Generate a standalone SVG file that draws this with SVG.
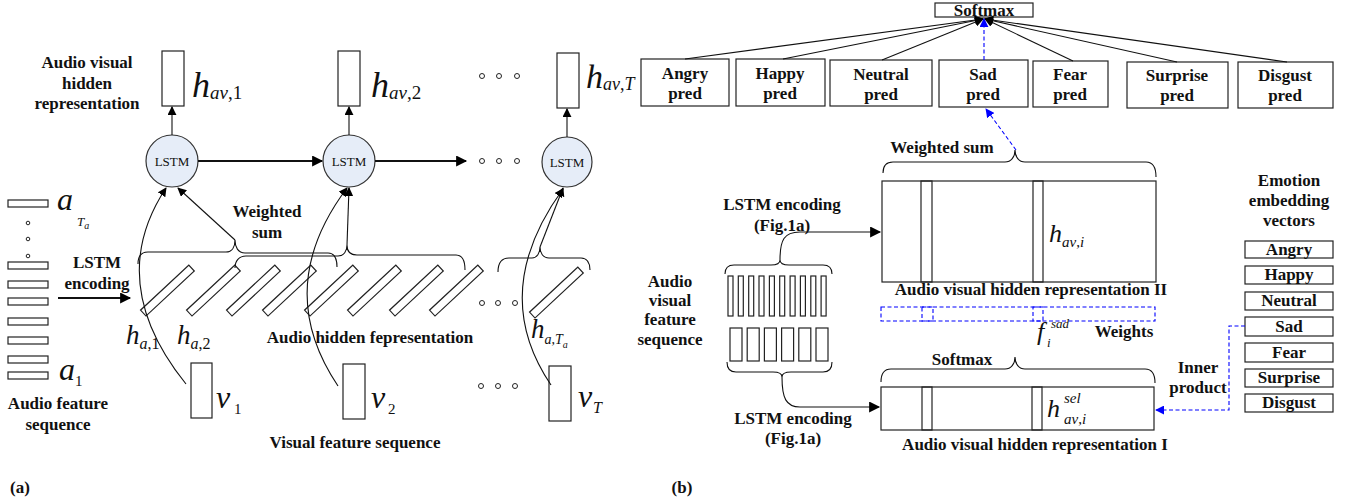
<svg xmlns="http://www.w3.org/2000/svg" width="1356" height="502" viewBox="0 0 1356 502">
<defs>
<marker id="ah" viewBox="0 0 10 10" refX="9" refY="5" markerWidth="9" markerHeight="9" markerUnits="userSpaceOnUse" orient="auto"><path d="M0,0 L10,5 L0,10 z" fill="#000"/></marker>
<marker id="ahb" viewBox="0 0 10 10" refX="9" refY="5" markerWidth="9" markerHeight="9" markerUnits="userSpaceOnUse" orient="auto"><path d="M0,0 L10,5 L0,10 z" fill="#0000ff"/></marker>
<marker id="ahl" viewBox="0 0 10 10" refX="9" refY="5" markerWidth="12" markerHeight="11" markerUnits="userSpaceOnUse" orient="auto"><path d="M0,0 L10,5 L0,10 z" fill="#000"/></marker>
</defs>
<style>
.b{font-family:"Liberation Serif",serif;font-weight:bold;font-size:17px;text-anchor:middle;fill:#111}
.r{font-family:"Liberation Serif",serif;font-size:13px;text-anchor:middle;fill:#111}
.m{font-family:"Liberation Serif",serif;font-style:italic;fill:#111}
.n{font-style:normal}
.box{fill:#fff;stroke:#222;stroke-width:1.2}
.cell{fill:none;stroke:#222;stroke-width:1.2}
.lstm{fill:#e6edf8;stroke:#333;stroke-width:1.2}
.ln{fill:none;stroke:#111;stroke-width:1.1}
.thick{fill:none;stroke:#111;stroke-width:2.2}
.blue{fill:none;stroke:#0000ff;stroke-width:1.1;stroke-dasharray:4 2.5}
.dot{fill:#fff;stroke:#222;stroke-width:1}
</style>
<rect width="1356" height="502" fill="#fff"/>

<!-- ============ (a) ============ -->
<g id="a-title">
<text class="b" x="87" y="68" font-size="16.5">Audio visual</text>
<text class="b" x="87" y="89" font-size="16.5">hidden</text>
<text class="b" x="87" y="109" font-size="16.5">representation</text>
</g>

<g id="hav1"><rect class="box" x="162" y="51" width="22" height="55"/>
<text class="m" x="192" y="97" font-size="36">h<tspan font-size="19" dy="2">av</tspan><tspan class="n" font-size="19">,1</tspan></text></g>
<g id="hav2"><rect class="box" x="338" y="51" width="22" height="55"/>
<text class="m" x="371" y="97" font-size="36">h<tspan font-size="19" dy="2">av</tspan><tspan class="n" font-size="19">,2</tspan></text></g>
<g id="havT"><rect class="box" x="557" y="53" width="22" height="55"/>
<text class="m" x="586" y="88" font-size="34">h<tspan font-size="18" dy="2">av</tspan><tspan class="n" font-size="18">,</tspan><tspan font-size="18">T</tspan></text></g>

<g id="lstm1"><circle class="lstm" cx="172" cy="161" r="26"/><text class="r" x="172" y="166">LSTM</text></g>
<g id="lstm2"><circle class="lstm" cx="349" cy="161" r="26"/><text class="r" x="349" y="166">LSTM</text></g>
<g id="lstm3"><circle class="lstm" cx="567" cy="162" r="25"/><text class="r" x="567" y="167">LSTM</text></g>

<g id="dots-a">
<circle class="dot" cx="482" cy="76" r="2.5"/><circle class="dot" cx="499" cy="76" r="2.5"/><circle class="dot" cx="517" cy="76" r="2.5"/>
<circle class="dot" cx="482" cy="161" r="2.5"/><circle class="dot" cx="499" cy="161" r="2.5"/><circle class="dot" cx="517" cy="161" r="2.5"/>
<circle class="dot" cx="482" cy="303" r="2.5"/><circle class="dot" cx="498" cy="303" r="2.5"/><circle class="dot" cx="515" cy="303" r="2.5"/>
<circle class="dot" cx="481" cy="386" r="2.5"/><circle class="dot" cx="498" cy="386" r="2.5"/><circle class="dot" cx="515" cy="386" r="2.5"/>
<circle class="dot" cx="28" cy="223" r="1.8"/><circle class="dot" cx="28" cy="239" r="1.8"/><circle class="dot" cx="28" cy="256" r="1.8"/>
</g>

<g id="audio-features">
<rect class="box" x="8" y="200" width="40" height="7"/>
<rect class="box" x="8" y="262" width="40" height="7"/>
<rect class="box" x="8" y="281" width="40" height="7"/>
<rect class="box" x="8" y="298" width="40" height="7"/>
<rect class="box" x="8" y="318" width="40" height="7"/>
<rect class="box" x="8" y="337" width="40" height="7"/>
<rect class="box" x="8" y="356" width="40" height="7"/>
<rect class="box" x="8" y="372" width="40" height="7"/>
<text class="m" x="57" y="210" font-size="32">a</text>
<text class="m" x="77" y="226" font-size="13">T<tspan font-size="10" dy="3">a</tspan></text>
<text class="m" x="59" y="380" font-size="32">a</text>
<text class="m n" x="75" y="386" font-size="15">1</text>
<text class="b" x="58" y="409">Audio feature</text>
<text class="b" x="58" y="430">sequence</text>
<text class="b" x="97" y="268">LSTM</text>
<text class="b" x="97" y="289">encoding</text>
</g>

<g id="audio-hidden">
<g class="box">
<rect x="0" y="-8" width="66" height="8" transform="translate(146,316) rotate(-43)"/>
<rect x="0" y="-8" width="66" height="8" transform="translate(192,316) rotate(-43)"/>
<rect x="0" y="-8" width="66" height="8" transform="translate(232,316) rotate(-43)"/>
<rect x="0" y="-8" width="66" height="8" transform="translate(268,316) rotate(-43)"/>
<rect x="0" y="-8" width="66" height="8" transform="translate(310,316) rotate(-43)"/>
<rect x="0" y="-8" width="66" height="8" transform="translate(353,316) rotate(-43)"/>
<rect x="0" y="-8" width="66" height="8" transform="translate(395,316) rotate(-43)"/>
<rect x="0" y="-8" width="66" height="8" transform="translate(435,316) rotate(-43)"/>
<rect x="0" y="-8" width="66" height="8" transform="translate(535,318) rotate(-43)"/>
</g>
<text class="m" x="126" y="344" font-size="27">h<tspan font-size="16" dy="5">a</tspan><tspan class="n" font-size="16">,1</tspan></text>
<text class="m" x="177" y="344" font-size="27">h<tspan font-size="16" dy="5">a</tspan><tspan class="n" font-size="16">,2</tspan></text>
<text class="m" x="531" y="338" font-size="27">h<tspan font-size="14" dy="6">a</tspan><tspan class="n" font-size="14">,</tspan><tspan font-size="14">T</tspan><tspan font-size="10" dy="4">a</tspan></text>
<text class="b" x="370" y="343">Audio hidden fepresentation</text>
<text class="b" x="267" y="217">Weighted</text>
<text class="b" x="267" y="238">sum</text>
</g>

<g id="visual-features">
<rect class="box" x="191" y="363" width="21" height="55"/>
<rect class="box" x="343" y="364" width="22" height="55"/>
<rect class="box" x="549" y="366" width="22" height="55"/>
<text class="m" x="216" y="408" font-size="32">v</text><text class="m n" x="234" y="414" font-size="15">1</text>
<text class="m" x="371" y="408" font-size="32">v</text><text class="m n" x="388" y="414" font-size="15">2</text>
<text class="m" x="578" y="407" font-size="32">v</text><text class="m" x="593" y="413" font-size="16">T</text>
<text class="b" x="355" y="448">Visual feature sequence</text>
</g>

<text class="b" x="20" y="493">(a)</text>

<g id="connectors-a">
<line class="ln" x1="172" y1="135" x2="172" y2="107" marker-end="url(#ah)"/>
<line class="ln" x1="349" y1="135" x2="349" y2="107" marker-end="url(#ah)"/>
<line class="ln" x1="567" y1="137" x2="567" y2="109" marker-end="url(#ah)"/>
<line class="thick" x1="198" y1="161" x2="322" y2="161" marker-end="url(#ahl)"/>
<line class="thick" x1="375" y1="161" x2="466" y2="161" marker-end="url(#ahl)"/>
<line class="thick" x1="58" y1="298" x2="130" y2="298" marker-end="url(#ahl)"/>
<path class="ln" d="M138,264 C138,256 141,252 148,252 L226,252 C232,252 235,247 235,240 C235,247 238,253 245,253 L328,253 C334,253 337,258 337,267"/>
<path class="ln" d="M235,268 C235,261 239,256 246,256 L338,256 C344,256 347,251 347,245 C347,251 350,255 357,255 L456,255 C462,255 465,261 465,270"/>
<path class="ln" d="M498,272 C498,263 502,258 509,258 L532,258 C537,258 540,253 540,247 C540,253 543,258 549,258 L581,258 C587,258 590,263 590,270"/>
<line class="ln" x1="235" y1="240" x2="178" y2="188" marker-end="url(#ah)"/>
<line class="ln" x1="347" y1="245" x2="349" y2="188" marker-end="url(#ah)"/>
<line class="ln" x1="540" y1="247" x2="563" y2="188" marker-end="url(#ah)"/>
<path class="ln" d="M186,384 Q104,282 166,188" marker-end="url(#ah)"/>
<path class="ln" d="M338,386 Q272,288 347,188" marker-end="url(#ah)"/>
<path class="ln" d="M551,385 Q488,292 563,189" marker-end="url(#ah)"/>
</g>

<!-- ============ (b) ============ -->
<g id="softmax-top"><rect class="box" x="935" y="3" width="98" height="14"/>
<text class="b" x="984" y="16">Softmax</text></g>

<g id="pred-angry"><rect class="box" x="641" y="59" width="88" height="47"/><text class="b" x="685" y="79">Angry</text><text class="b" x="685" y="99">pred</text></g>
<g id="pred-happy"><rect class="box" x="736" y="59" width="89" height="47"/><text class="b" x="780" y="79">Happy</text><text class="b" x="780" y="99">pred</text></g>
<g id="pred-neutral"><rect class="box" x="830" y="60" width="102" height="46"/><text class="b" x="881" y="80">Neutral</text><text class="b" x="881" y="100">pred</text></g>
<g id="pred-sad"><rect class="box" x="939" y="60" width="89" height="47"/><text class="b" x="983" y="80">Sad</text><text class="b" x="983" y="100">pred</text></g>
<g id="pred-fear"><rect class="box" x="1033" y="61" width="75" height="46"/><text class="b" x="1070" y="80">Fear</text><text class="b" x="1070" y="100">pred</text></g>
<g id="pred-surprise"><rect class="box" x="1127" y="62" width="101" height="46"/><text class="b" x="1177" y="81">Surprise</text><text class="b" x="1177" y="101">pred</text></g>
<g id="pred-disgust"><rect class="box" x="1238" y="62" width="95" height="46"/><text class="b" x="1285" y="81">Disgust</text><text class="b" x="1285" y="101">pred</text></g>

<g id="hidden-II">
<text class="b" x="942" y="153">Weighted sum</text>
<rect class="box" x="882" y="181" width="274" height="101"/>
<rect class="cell" x="921" y="181" width="11" height="101"/>
<rect class="cell" x="1033" y="181" width="10" height="101"/>
<text class="m" x="1049" y="242" font-size="26">h<tspan font-size="15" dy="5">av</tspan><tspan class="n" font-size="15">,</tspan><tspan font-size="15">i</tspan></text>
<text class="b" x="1031" y="295" font-size="13">Audio visual hidden representation II</text>
</g>

<g id="weights">
<rect class="blue" x="881" y="307" width="274" height="14"/>
<rect class="blue" x="922" y="307" width="11" height="14"/>
<rect class="blue" x="1033" y="307" width="10" height="14"/>
<text class="m" x="1037" y="340" font-size="26">f</text>
<text class="m" x="1051" y="328" font-size="13">sad</text>
<text class="m" x="1047" y="347" font-size="13">i</text>
<text class="b" x="1124" y="337" font-size="14.5">Weights</text>
</g>

<g id="hidden-I">
<text class="b" x="962" y="365">Softmax</text>
<rect class="box" x="881" y="387" width="273" height="43"/>
<rect class="cell" x="922" y="387" width="10" height="43"/>
<rect class="cell" x="1032" y="387" width="10" height="43"/>
<text class="m" x="1047" y="417" font-size="26">h</text>
<text class="m" x="1064" y="403" font-size="15">sel</text>
<text class="m" x="1064" y="424" font-size="15">av<tspan class="n">,</tspan>i</text>
<text class="b" x="1035" y="450" font-size="13">Audio visual hidden representation I</text>
</g>

<g id="av-feature-seq">
<text class="b" x="670" y="287">Audio</text>
<text class="b" x="670" y="306">visual</text>
<text class="b" x="670" y="325">feature</text>
<text class="b" x="670" y="345">sequence</text>
<g class="cell">
<rect x="728" y="276" width="5" height="40"/><rect x="738.3" y="276" width="5" height="40"/><rect x="748.7" y="276" width="5" height="40"/><rect x="759" y="276" width="5" height="40"/><rect x="769.4" y="276" width="5" height="40"/><rect x="779.7" y="276" width="5" height="40"/><rect x="790.1" y="276" width="5" height="40"/><rect x="800.4" y="276" width="5" height="40"/><rect x="810.8" y="276" width="5" height="40"/><rect x="821.1" y="276" width="5" height="40"/>
<rect x="730" y="328" width="12" height="33"/><rect x="747.2" y="328" width="12" height="33"/><rect x="764.4" y="328" width="12" height="33"/><rect x="781.6" y="328" width="12" height="33"/><rect x="798.8" y="328" width="12" height="33"/><rect x="816" y="328" width="12" height="33"/>
</g>
<text class="b" x="782" y="210">LSTM encoding</text>
<text class="b" x="782" y="231">(Fig.1a)</text>
<text class="b" x="793" y="424">LSTM encoding</text>
<text class="b" x="793" y="444">(Fig.1a)</text>
</g>

<g id="emotion-vectors">
<text class="b" x="1289" y="186">Emotion</text>
<text class="b" x="1289" y="206">embedding</text>
<text class="b" x="1289" y="226">vectors</text>
<rect class="box" x="1245" y="241" width="88" height="17"/><text class="b" x="1289" y="255">Angry</text>
<rect class="box" x="1245" y="266" width="88" height="18"/><text class="b" x="1289" y="280">Happy</text>
<rect class="box" x="1245" y="292" width="88" height="18"/><text class="b" x="1289" y="306">Neutral</text>
<rect class="box" x="1245" y="317" width="88" height="19"/><text class="b" x="1289" y="332">Sad</text>
<rect class="box" x="1245" y="343" width="88" height="19"/><text class="b" x="1289" y="358">Fear</text>
<rect class="box" x="1245" y="369" width="88" height="18"/><text class="b" x="1289" y="383">Surprise</text>
<rect class="box" x="1245" y="394" width="88" height="18"/><text class="b" x="1289" y="408">Disgust</text>
<text class="b" x="1198" y="373">Inner</text>
<text class="b" x="1198" y="393">product</text>
</g>

<text class="b" x="682" y="493">(b)</text>

<g id="connectors-b">
<line class="ln" x1="685" y1="59" x2="983" y2="19" marker-end="url(#ah)"/>
<line class="ln" x1="783" y1="59" x2="983" y2="19" marker-end="url(#ah)"/>
<line class="ln" x1="882" y1="60" x2="983" y2="19" marker-end="url(#ah)"/>
<line class="ln" x1="1073" y1="61" x2="985" y2="19" marker-end="url(#ah)"/>
<line class="ln" x1="1177" y1="62" x2="985" y2="19" marker-end="url(#ah)"/>
<line class="ln" x1="1287" y1="62" x2="985" y2="19" marker-end="url(#ah)"/>
<line class="blue" x1="984" y1="60" x2="984" y2="19" marker-end="url(#ahb)"/>
<line class="blue" x1="1016" y1="150" x2="986" y2="109" marker-end="url(#ahb)"/>
<path class="ln" d="M883,173 C883,166 886,162 893,162 L1005,162 C1011,162 1015,157 1015,150 C1015,157 1019,162 1025,162 L1146,162 C1153,162 1156,167 1156,177"/>
<path class="ln" d="M881,382 C881,374 884,369 891,369 L1005,369 C1011,369 1015,364 1015,357 C1015,364 1019,369 1025,369 L1145,369 C1152,369 1155,374 1155,383"/>
<path class="ln" d="M725,274 C725,268 728,265 734,265 L771,265 C777,265 780,263 780,260 C780,263 783,265 789,265 L823,265 C829,265 832,268 832,274"/>
<path class="ln" d="M727,362 C727,368 730,372 736,372 L773,372 C779,372 782,374 782,377 C782,374 785,372 791,372 L823,372 C829,372 832,368 832,362"/>
<path class="ln" d="M780,260 C780,240 784,232 800,232 L880,232" marker-end="url(#ahl)"/>
<path class="ln" d="M782,377 C782,398 786,407 800,407 L879,407" marker-end="url(#ahl)"/>
<path class="blue" d="M1245,326 L1229,326 L1229,410 L1156,410" marker-end="url(#ahb)"/>
</g>
</svg>
